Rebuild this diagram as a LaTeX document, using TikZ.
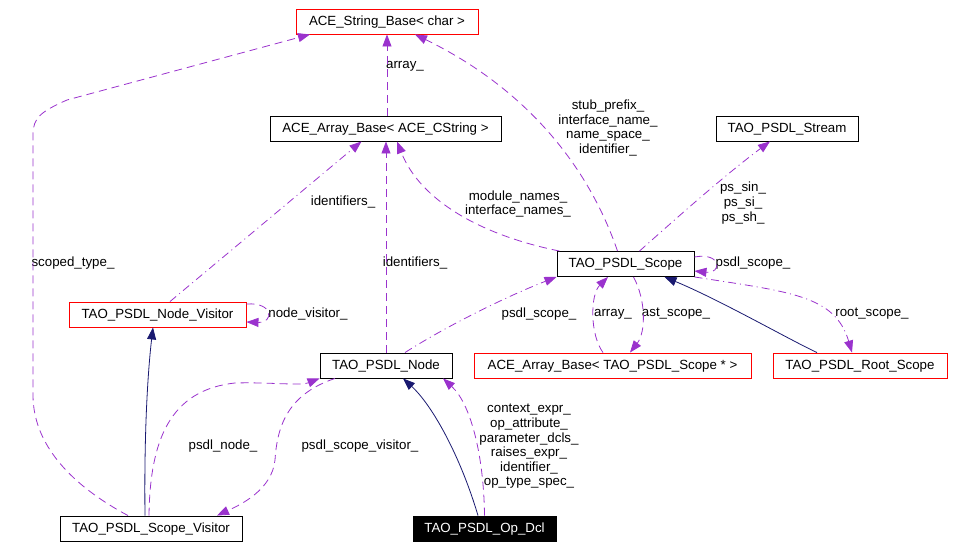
\documentclass[tikz,border=0pt]{standalone}
\usepackage{fontspec}
\setmainfont{Liberation Sans}
\usetikzlibrary{arrows.meta}
\definecolor{usecol}{HTML}{9A32CD}
\definecolor{inhcol}{HTML}{191970}
\tikzset{
  box/.style={draw=black, line width=0.9pt, minimum height=25pt, inner sep=0pt, text height=10.5pt, text depth=2.5pt, font=\fontsize{13.3}{14.6}\selectfont},
  redbox/.style={box, draw=red},
  blackbox/.style={box, fill=black, text=white},
  lbl/.style={inner sep=0pt, align=center, font=\fontsize{13.3}{14.6}\selectfont},
  use/.style={draw=usecol, line width=0.8pt, dash pattern=on 8pt off 5pt, -{Triangle[length=12pt,width=9pt]}, fill=none},
  usedot/.style={draw=usecol, line width=0.8pt, dash pattern=on 8pt off 4pt on 1pt off 4pt, -{Triangle[length=12pt,width=9pt]}},
  inh/.style={draw=inhcol, line width=0.8pt, -{Triangle[length=12pt,width=9pt]}},
}
\begin{document}
\begin{tikzpicture}[x=1pt, y=-1pt]
\useasboundingbox (0,0) rectangle (954,548);
% nodes
\node[redbox, minimum width=182pt] (sb) at (387,21.5) {ACE\_String\_Base< char >};
\node[box, minimum width=231pt] (acs) at (385.5,128.5) {ACE\_Array\_Base< ACE\_CString >};
\node[box, minimum width=142pt] (stream) at (787,128.5) {TAO\_PSDL\_Stream};
\node[box, minimum width=137pt] (scope) at (625.5,264) {TAO\_PSDL\_Scope};
\node[redbox, minimum width=177pt] (nv) at (157.5,314.5) {TAO\_PSDL\_Node\_Visitor};
\node[box, minimum width=132pt] (node) at (386,365.5) {TAO\_PSDL\_Node};
\node[redbox, minimum width=277pt] (aas) at (612.5,365.5) {ACE\_Array\_Base< TAO\_PSDL\_Scope * >};
\node[redbox, minimum width=174pt] (root) at (860,365.5) {TAO\_PSDL\_Root\_Scope};
\node[box, minimum width=182pt] (sv) at (151,528.5) {TAO\_PSDL\_Scope\_Visitor};
\node[blackbox, minimum width=143pt] (op) at (484.5,528.5) {TAO\_PSDL\_Op\_Dcl};

% labels
\node[lbl] (l1) at (405,66) {array\_};
\node[lbl] (l2) at (343,202) {identifiers\_};
\node[lbl] (l3) at (415,263) {identifiers\_};
\node[lbl] (l4) at (73,263) {scoped\_type\_};
\node[lbl] (l5) at (518,204) {module\_names\_\\interface\_names\_};
\node[lbl] (l6) at (608,128) {stub\_prefix\_\\interface\_name\_\\name\_space\_\\identifier\_};
\node[lbl] (l7) at (743,203) {ps\_sin\_\\ps\_si\_\\ps\_sh\_};
\node[lbl] (l8) at (753,263) {psdl\_scope\_};
\node[lbl] (l9) at (308,314) {node\_visitor\_};
\node[lbl] (l10) at (223,446) {psdl\_node\_};
\node[lbl] (l11) at (360,446) {psdl\_scope\_visitor\_};
\node[lbl] (l12) at (539,314) {psdl\_scope\_};
\node[lbl] (l13) at (613,314) {array\_};
\node[lbl] (l14) at (676,314) {ast\_scope\_};
\node[lbl] (l15) at (872,314) {root\_scope\_};
\node[lbl] (l16) at (529,446.5) {context\_expr\_\\op\_attribute\_\\parameter\_dcls\_\\raises\_expr\_\\identifier\_\\op\_type\_spec\_};

% edges
\draw[use] ([xshift=-23pt]sv.north) .. controls (80,490) and (33,450) .. (33,395) -- (33,135) .. controls (33,118) and (40,112) .. (67,100) -- ([xshift=-77pt]sb.south);
\draw[use] (node.north) -- (node.north |- acs.south);
\draw[usedot] ([xshift=12.5pt]nv.north) -- ([xshift=-24pt]acs.south);
\draw[use] ([xshift=1.5pt]acs.north) -- (sb.south);
\draw[use] ([xshift=3pt]scope.north west) .. controls (480,235) and (420,200) .. ([xshift=11.5pt]acs.south);
\draw[use] ([xshift=-8pt]scope.north) .. controls (588,165) and (525,88) .. ([xshift=28pt]sb.south);
\draw[usedot] ([xshift=14pt]scope.north) .. controls (680,215) and (725,175) .. ([xshift=-17pt]stream.south);
\draw[use] ([yshift=7pt]scope.east) .. controls (722,252) and (722,274) .. ([yshift=-7pt]scope.east);
\draw[usedot] ([xshift=19pt]node.north) .. controls (445,327) and (505,297) .. (scope.south west);
\draw[use] ([xshift=-9.5pt]aas.north) .. controls (590,335) and (590,295) .. ([xshift=-17.5pt]scope.south);
\draw[use] ([xshift=8pt]scope.south) .. controls (646,300) and (646,332) .. ([xshift=17.5pt]aas.north);
\draw[inh] ([xshift=-43pt]root.north) .. controls (790,340) and (720,300) .. ([xshift=39pt]scope.south);
\draw[usedot] (scope.south east) .. controls (790,292) and (835,295) .. ([xshift=-8pt]root.north);
\draw[use] ([yshift=10.5pt]nv.east) .. controls (274,302) and (274,323) .. ([yshift=-7.5pt]nv.east);
\draw[inh] ([xshift=-6pt]sv.north) .. controls (144,430) and (148,370) .. ([xshift=-4.5pt]nv.south);
\draw[use] ([xshift=-2pt]sv.north) .. controls (150,440) and (170,390) .. (235,383) .. controls (270,382) and (300,386) .. (node.south west);
\draw[use] ([xshift=-51pt]node.south) .. controls (285,395) and (277,430) .. (275,460) .. controls (272,490) and (240,505) .. ([xshift=66pt]sv.north);
\draw[inh] ([xshift=-6.5pt]op.north) .. controls (460,455) and (432,405) .. ([xshift=17pt]node.south);
\draw[use] (op.north) .. controls (484,460) and (472,405) .. ([xshift=57pt]node.south);
\end{tikzpicture}
\end{document}
